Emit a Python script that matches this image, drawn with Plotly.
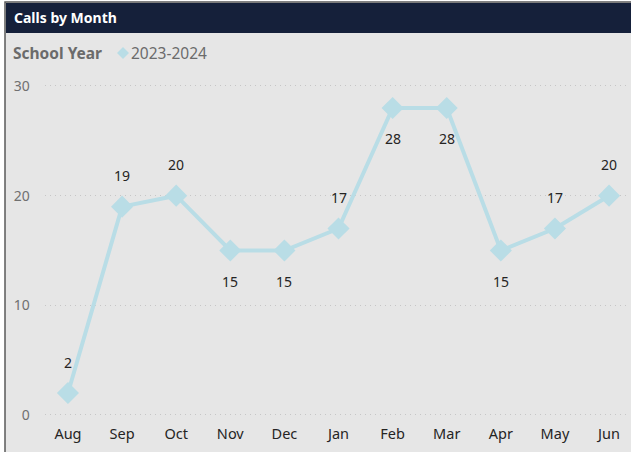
import plotly.graph_objects as go

months = ["Aug", "Sep", "Oct", "Nov", "Dec", "Jan", "Feb", "Mar", "Apr", "May", "Jun"]
calls = [2, 19, 20, 15, 15, 17, 28, 28, 15, 17, 20]
label_above = [True, True, True, False, False, True, False, False, False, True, True]
series_name = "2023-2024"
legend_title = "School Year"
chart_title = "Calls by Month"
y_ticks = [0, 10, 20, 30]

W, H = 631, 452
LINE = "#b9dde6"
FONT = "Noto Sans, Open Sans, DejaVu Sans, sans-serif"

# plot area in pixels
px0, px1 = 44.7, 628.0
y0_px, y30_px = 415.0, 86.0
ppu = (y0_px - y30_px) / 30.0
yr = [-0.5, 30.5]
py_bot = y0_px - (yr[0]) * ppu
py_top = y0_px - (yr[1]) * ppu

def fx(p):
    return p / W

def fy(p):
    return 1 - p / H

fig = go.Figure()
fig.add_trace(go.Scatter(
    x=months, y=calls, mode="lines+markers",
    line=dict(color=LINE, width=4),
    marker=dict(symbol="diamond", size=17, color=LINE),
    cliponaxis=False, showlegend=False, name=series_name,
    hoverinfo="skip",
))

annotations = [
    dict(x=m, y=v, text=str(v), showarrow=False, xref="x", yref="y",
         yshift=(31 if up else -31), xanchor="center", yanchor="middle",
         font=dict(family=FONT, size=14, color="#252423"))
    for m, v, up in zip(months, calls, label_above)
]
annotations += [
    dict(text="<b>" + chart_title + "</b>", xref="paper", yref="paper", x=fx(12), y=fy(18),
         xanchor="left", yanchor="middle", showarrow=False,
         font=dict(family=FONT, size=14, color="white")),
    dict(text="<b>" + legend_title + "</b>", xref="paper", yref="paper", x=fx(11), y=fy(53),
         xanchor="left", yanchor="middle", showarrow=False,
         font=dict(family=FONT, size=15.5, color="#6b6b6b")),
    dict(text=series_name, xref="paper", yref="paper", x=fx(129), y=fy(53),
         xanchor="left", yanchor="middle", showarrow=False,
         font=dict(family=FONT, size=15.5, color="#6b6b6b")),
]

dcx, dcy, dr = 123, 53, 6
diamond = "M {},{} L {},{} L {},{} L {},{} Z".format(
    fx(dcx), fy(dcy - dr), fx(dcx + dr), fy(dcy), fx(dcx), fy(dcy + dr), fx(dcx - dr), fy(dcy))

fig.update_layout(
    width=W, height=H,
    margin=dict(l=0, r=0, t=0, b=0),
    paper_bgcolor="white",
    plot_bgcolor="rgba(0,0,0,0)",
    font=dict(family=FONT),
    showlegend=False,
    xaxis=dict(
        domain=[fx(px0), fx(px1)],
        range=[-0.43, 10.35],
        showgrid=False, zeroline=False, showline=False,
        tickfont=dict(family=FONT, size=14.5, color="#252423"),
        ticks="", ticklabelstandoff=3, automargin=False, fixedrange=True,
    ),
    yaxis=dict(
        domain=[fy(py_bot), fy(py_top)],
        range=yr,
        tickvals=y_ticks,
        showgrid=True, gridcolor="#c6c6c6", griddash="1px,4px", gridwidth=1,
        zeroline=False, showline=False,
        tickfont=dict(family=FONT, size=14, color="#707070"),
        ticks="", ticklabelstandoff=14, automargin=False, fixedrange=True,
    ),
    shapes=[
        dict(type="rect", xref="paper", yref="paper", x0=fx(5), x1=fx(640), y0=fy(460), y1=fy(2),
             fillcolor="#e6e6e6", line=dict(color="#5a5a5a", width=1.5), layer="below"),
        dict(type="rect", xref="paper", yref="paper", x0=fx(6), x1=fx(640), y0=fy(33), y1=fy(3),
             fillcolor="#15203a", line=dict(width=0), layer="below"),
        dict(type="path", xref="paper", yref="paper", path=diamond,
             fillcolor=LINE, line=dict(width=0), layer="above"),
    ],
    annotations=annotations,
)

fig.write_html("out.html", config={"displayModeBar": False},
               post_script="document.body.style.margin='0px';")
